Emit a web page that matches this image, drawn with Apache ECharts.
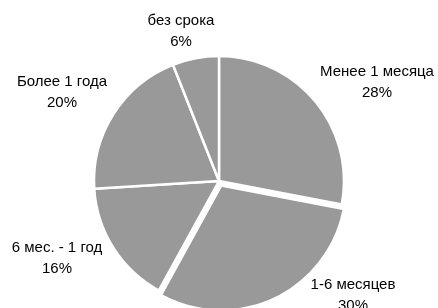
<!DOCTYPE html>
<html>
<head>
<meta charset="utf-8">
<script src="https://cdn.jsdelivr.net/npm/echarts@6/dist/echarts.min.js"></script>
<style>
html,body{margin:0;padding:0;background:#fff;}
#c{width:438px;height:308px;}
</style>
</head>
<body>
<div id="c"></div>
<script>
var categories = ['Менее 1 месяца', '1-6 месяцев', '6 мес. - 1 год', 'Более 1 года', 'без срока'];
var values = [28, 30, 16, 20, 6];
var exploded = [false, true, false, false, false];

// layout (not data)
var CENTER = [219, 181];
var RADIUS = 125;
var EXPLODE = 5;
var labelPos = [[377, 82], [353, 295], [57, 258], [62, 92], [181, 31]];

var total = values.reduce(function (a, b) { return a + b; }, 0);
// offset of the exploded slice along its bisector (clockwise from 12 o'clock)
var cum = 0, offX = 0, offY = 0;
values.forEach(function (v, i) {
  var mid = (cum + v / 2) / total * 2 * Math.PI;
  if (exploded[i]) { offX = EXPLODE * Math.sin(mid); offY = -EXPLODE * Math.cos(mid); }
  cum += v;
});

var baseStyle = {color: '#999999', borderColor: '#ffffff', borderWidth: 2.5};
var hidden = {color: 'rgba(0,0,0,0)', borderWidth: 0};

var chart = echarts.init(document.getElementById('c'), null, {renderer: 'canvas'});
chart.setOption({
  animation: false,
  series: [{
    type: 'pie',
    center: CENTER,
    radius: [0, RADIUS],
    startAngle: 90,
    clockwise: true,
    silent: true,
    avoidLabelOverlap: false,
    itemStyle: baseStyle,
    label: {
      show: true,
      position: 'outside',
      formatter: '{b}\n{d}%',
      fontFamily: 'Liberation Sans, Arial, sans-serif',
      fontSize: 15,
      lineHeight: 21,
      color: '#000',
      backgroundColor: '#fff'
    },
    labelLine: {show: false},
    labelLayout: function (p) {
      var pos = labelPos[p.dataIndex];
      return {x: pos[0], y: pos[1], align: 'center', verticalAlign: 'middle', hideOverlap: false};
    },
    data: categories.map(function (n, i) {
      return {name: n, value: values[i], itemStyle: exploded[i] ? hidden : baseStyle};
    }),
    z: 2
  }, {
    type: 'pie',
    center: [CENTER[0] + offX, CENTER[1] + offY],
    radius: [0, RADIUS],
    startAngle: 90,
    clockwise: true,
    silent: true,
    label: {show: false},
    labelLine: {show: false},
    data: categories.map(function (n, i) {
      return {name: n, value: values[i], itemStyle: exploded[i] ? baseStyle : hidden};
    }),
    z: 1
  }]
});
</script>
</body>
</html>
